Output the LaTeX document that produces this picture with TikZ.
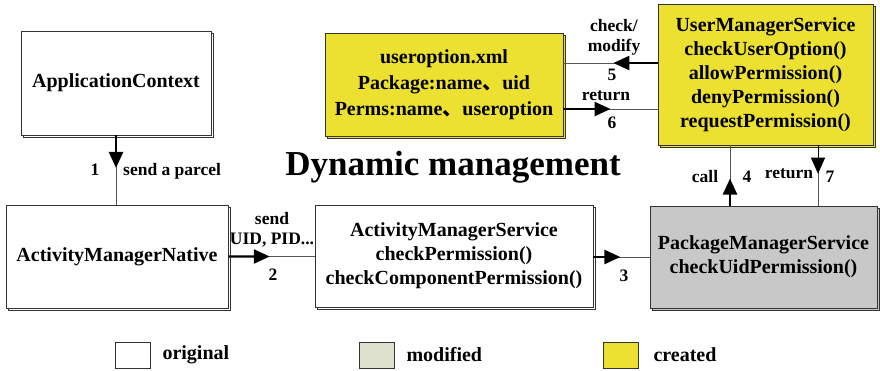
\documentclass[tikz,border=0pt]{standalone}
\usepackage{fontspec}
\setmainfont{Liberation Serif}
\newfontfamily\cjk{Noto Sans CJK SC}
\usetikzlibrary{arrows.meta, calc, shadows}
\definecolor{boxline}{HTML}{333333}
\definecolor{wiregray}{HTML}{555555}
\definecolor{created}{HTML}{ECE030}
\definecolor{modified}{HTML}{DDE0CC}
\definecolor{pmsgray}{HTML}{C8C8C8}
\tikzset{
  box/.style={rectangle, draw=boxline, fill=white, line width=0.8pt, align=center,
    inner sep=2pt, font=\fontsize{20}{24}\selectfont\bfseries,
    copy shadow={shadow xshift=2pt, shadow yshift=-2pt}},
  legbox/.style={rectangle, draw=boxline, line width=0.8pt, minimum width=35pt, minimum height=26pt},
  legtext/.style={anchor=west, font=\fontsize{20}{24}\selectfont\bfseries},
  lbl/.style={font=\fontsize{17.5}{20}\selectfont\bfseries, inner sep=0pt, align=center},
  wire/.style={draw=wiregray, line width=1pt},
  lead/.style={draw=black, line width=2.4pt, -{Triangle[length=16pt, width=14pt]}},
}

\begin{document}
\begin{tikzpicture}[x=1pt, y=-1pt]
  \useasboundingbox (0,0) rectangle (880,370);

  % boxes
  \node[box, minimum width=190pt, minimum height=104pt] (appctx) at (116,83) {ApplicationContext};
  \node[box, minimum width=222pt, minimum height=103pt] (amn) at (117,256.5) {ActivityManagerNative};
  \node[box, minimum width=278pt, minimum height=102pt] (ams) at (454,256)
    {ActivityManagerService\\checkPermission()\\checkComponentPermission()};
  \node[box, fill=pmsgray, minimum width=227pt, minimum height=102pt] (pms) at (763.5,257)
    {PackageManagerService\\checkUidPermission()};
  \node[box, fill=created, minimum width=215pt, minimum height=141pt] (ums) at (765.5,74.5)
    {UserManagerService\\checkUserOption()\\allowPermission()\\denyPermission()\\requestPermission()};
  \node[box, fill=created, minimum width=238pt, minimum height=103pt,
    font=\fontsize{20}{26}\selectfont\bfseries] (uopt) at (444,84.5)
    {useroption.xml\\Package:name{\cjk 、}uid\\Perms:name{\cjk 、}useroption};

  % title
  \node[font=\fontsize{35}{40}\selectfont\bfseries] (title) at (453,167) {Dynamic management};

  % connector ends
  \coordinate (e1) at (appctx.south |- amn.north);
  \coordinate (e2) at (amn.east -| ams.west);
  \coordinate (s3) at (ams.east |- 0,257);
  \coordinate (e3) at (pms.west |- 0,257);
  \coordinate (s4) at (730,0 |- pms.north);
  \coordinate (e4) at (730,0 |- ums.south);
  \coordinate (s5) at (ums.west |- 0,63);
  \coordinate (e5) at (uopt.east |- 0,63);
  \coordinate (s6) at (uopt.east |- 0,109);
  \coordinate (e6) at (ums.west |- 0,109);
  \coordinate (s7) at (818,0 |- ums.south);
  \coordinate (e7) at (818,0 |- pms.north);

  % connectors
  \draw[wire] (appctx.south) -- (e1);
  \draw[lead] (appctx.south) -- ($(appctx.south)!0.47!(e1)$);
  \draw[wire] (amn.east) -- (e2);
  \draw[lead] (amn.east) -- ($(amn.east)!0.48!(e2)$);
  \draw[wire] (s3) -- (e3);
  \draw[lead] (s3) -- ($(s3)!0.48!(e3)$);
  \draw[wire] (s4) -- (e4);
  \draw[lead] (s4) -- ($(s4)!0.45!(e4)$);
  \draw[wire] (s5) -- (e5);
  \draw[lead] (s5) -- ($(s5)!0.47!(e5)$);
  \draw[wire] (s6) -- (e6);
  \draw[lead] (s6) -- ($(s6)!0.5!(e6)$);
  \draw[wire] (s7) -- (e7);
  \draw[wire, -{Triangle[length=16pt, width=14pt]}, draw=black] (s7) -- ($(s7)!0.47!(e7)$);

  % connector labels
  \node[lbl] (n1) at (95,170) {1};
  \node[lbl, anchor=west] (l1) at (123,171) {send a parcel};
  \node[lbl] (l2) at (272,230) {send\\UID, PID...};
  \node[lbl] (n2) at (273,275) {2};
  \node[lbl] (n3) at (624,276) {3};
  \node[lbl] (l4) at (705,177) {call};
  \node[lbl] (n4) at (747,177) {4};
  \node[lbl] (l5) at (614,37) {check/\\modify};
  \node[lbl] (n5) at (612,75) {5};
  \node[lbl] (l6) at (606,96) {return};
  \node[lbl] (n6) at (612,123) {6};
  \node[lbl] (l7) at (789,174) {return};
  \node[lbl] (n7) at (830,177) {7};

  % legend
  \node[legbox, fill=white] (lgorig) at (132.5,355) {};
  \node[legtext] (tgorig) at (159,355) {original};
  \node[legbox, fill=modified] (lgmod) at (376.5,355) {};
  \node[legtext] (tgmod) at (403,355) {modified};
  \node[legbox, fill=created] (lgnew) at (620.5,355) {};
  \node[legtext] (tgnew) at (650,355) {created};
\end{tikzpicture}
\end{document}
